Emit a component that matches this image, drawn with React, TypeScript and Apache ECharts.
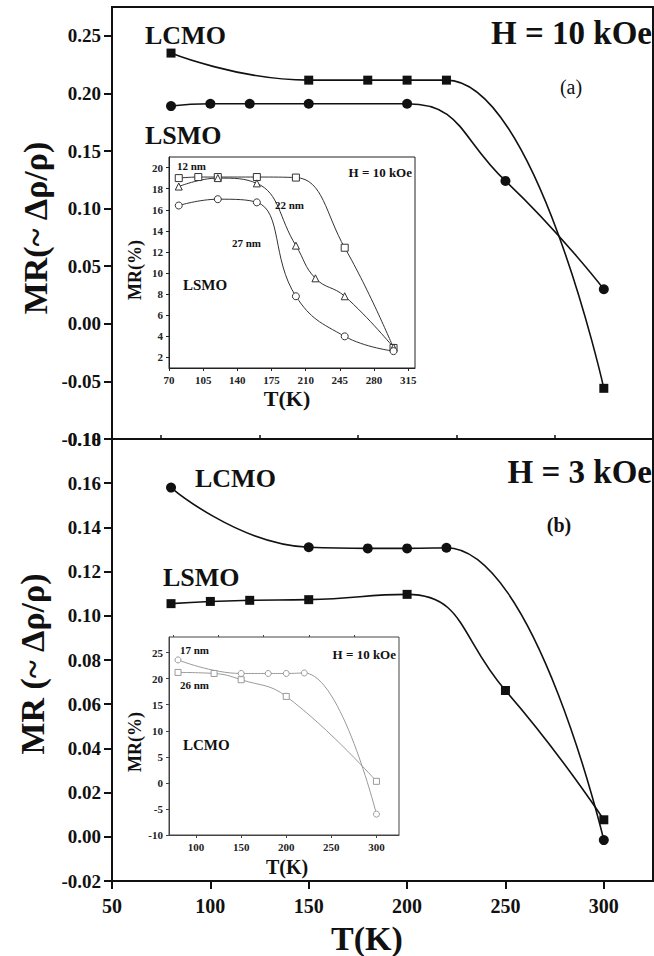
import React, { useEffect, useRef } from 'react';
import * as echarts from 'echarts';

// ---------- Main panel (a): H = 10 kOe ----------
const topLcmoT = [80, 150, 180, 200, 220, 300];
const topLcmoMR = [0.235, 0.2115, 0.2115, 0.2115, 0.2115, -0.056];
const topLsmoT = [80, 100, 120, 150, 200, 250, 300];
const topLsmoMR = [0.189, 0.191, 0.191, 0.191, 0.191, 0.124, 0.03];

// ---------- Main panel (b): H = 3 kOe ----------
const botLcmoT = [80, 150, 180, 200, 220, 300];
const botLcmoMR = [0.158, 0.131, 0.1305, 0.1305, 0.1308, -0.0015];
const botLsmoT = [80, 100, 120, 150, 200, 250, 300];
const botLsmoMR = [0.1055, 0.1065, 0.107, 0.1073, 0.1097, 0.0662, 0.0077];

// ---------- Inset (a): LSMO, H = 10 kOe, MR(%) ----------
const inA12T = [80, 100, 120, 160, 200, 250, 300];
const inA12MR = [19.0, 19.1, 19.1, 19.1, 19.05, 12.4, 2.9];
const inA22T = [80, 120, 160, 200, 220, 250, 300];
const inA22MR = [18.2, 19.0, 18.5, 12.6, 9.5, 7.8, 2.95];
const inA27T = [80, 120, 160, 200, 250, 300];
const inA27MR = [16.4, 17.0, 16.7, 7.8, 4.0, 2.6];

// ---------- Inset (b): LCMO, H = 10 kOe, MR(%) ----------
const inB17T = [80, 150, 180, 200, 220, 300];
const inB17MR = [23.6, 21.0, 21.0, 21.0, 21.1, -6.0];
const inB26T = [80, 120, 150, 200, 300];
const inB26MR = [21.2, 21.0, 19.8, 16.6, 0.3];

// ---------- Tick values ----------
const mainXTicks = [50, 100, 150, 200, 250, 300];
const mainXMinor = [75, 125, 175, 225, 275];
const topYTicks = [-0.1, -0.05, 0.0, 0.05, 0.1, 0.15, 0.2, 0.25];
const topYMinor = [-0.075, -0.025, 0.025, 0.075, 0.125, 0.175, 0.225];
const botYTicks = [-0.02, 0.0, 0.02, 0.04, 0.06, 0.08, 0.1, 0.12, 0.14, 0.16, 0.18];
const botYMinor = [-0.01, 0.01, 0.03, 0.05, 0.07, 0.09, 0.11, 0.13, 0.15, 0.17];
const inAXTicks = [70, 105, 140, 175, 210, 245, 280, 315];
const inAYTicks = [2, 4, 6, 8, 10, 12, 14, 16, 18, 20];
const inBXTicks = [100, 150, 200, 250, 300];
const inBXMinor = [75, 125, 175, 225, 275];
const inBYTicks = [-10, -5, 0, 5, 10, 15, 20, 25];

const SERIF = 'Liberation Serif';
const zip = (xs: number[], ys: number[]) => xs.map((x, i) => [x, ys[i]]);

export default function App() {
  const ref = useRef<HTMLDivElement>(null);
  useEffect(() => {
    if (!ref.current) return;
    const chart = echarts.init(ref.current, null, { renderer: 'svg' });

    const mainLabel = {
      fontFamily: SERIF,
      fontWeight: 'bold',
      fontSize: 19,
      color: '#111',
    };
    const insetLabel = {
      fontFamily: SERIF,
      fontWeight: 'bold',
      fontSize: 11,
      color: '#222',
    };
    const minorAxis = (gridIndex: number, min: number, max: number, vals: number[], len: number, color = '#111', width = 1.5) => ({
      type: 'value',
      gridIndex,
      min,
      max,
      axisLine: { show: false, onZero: false },
      splitLine: { show: false },
      axisLabel: { show: false },
      axisTick: { show: true, customValues: vals, length: len, lineStyle: { color, width } },
    });

    const text = (
      x: number,
      y: number,
      t: string,
      size: number,
      align: string = 'left',
      weight: string = 'bold',
      rotation = 0,
      color = '#111'
    ) => ({
      type: 'text',
      x,
      y,
      rotation,
      z: 100,
      style: {
        text: t,
        fontFamily: SERIF,
        fontSize: size,
        fontWeight: weight,
        fill: color,
        textAlign: align,
        textVerticalAlign: 'middle',
      },
    });

    const mainLine = (name: string, xi: number, yi: number, data: number[][], symbol: string, size: number) => ({
      name,
      type: 'line',
      xAxisIndex: xi,
      yAxisIndex: yi,
      data,
      smooth: 0.5,
      symbol,
      symbolSize: size,
      lineStyle: { color: '#111', width: 1.6 },
      itemStyle: { color: '#111', borderColor: '#111', borderWidth: 0 },
    });
    const insetLine = (
      name: string,
      xi: number,
      yi: number,
      data: number[][],
      symbol: string,
      color: string,
      size = 7
    ) => ({
      name,
      type: 'line',
      xAxisIndex: xi,
      yAxisIndex: yi,
      data,
      smooth: 0.45,
      symbol,
      symbolSize: size,
      lineStyle: { color, width: 1 },
      itemStyle: { color: '#fff', borderColor: color, borderWidth: 1 },
    });

    const option: any = {
      animation: false,
      backgroundColor: '#fff',
      textStyle: { fontFamily: SERIF },
      grid: [
        { left: 112, top: 7, width: 541, height: 432, show: true, borderColor: '#111', borderWidth: 2, backgroundColor: 'transparent' },
        { left: 112, top: 439, width: 541, height: 442, show: true, borderColor: '#111', borderWidth: 2, backgroundColor: 'transparent' },
        { left: 169, top: 157, width: 246, height: 211, show: true, borderColor: '#222', borderWidth: 1, backgroundColor: 'transparent' },
        { left: 169, top: 637, width: 230, height: 198, show: true, borderColor: '#444', borderWidth: 1, backgroundColor: 'transparent' },
      ],
      xAxis: [
        {
          type: 'value', gridIndex: 0, min: 50, max: 325,
          axisLine: { show: true, onZero: false, lineStyle: { color: '#111', width: 2 } },
          axisTick: { show: false }, axisLabel: { show: false }, splitLine: { show: false },
        },
        {
          type: 'value', gridIndex: 1, min: 50, max: 325,
          axisLine: { show: true, onZero: false, lineStyle: { color: '#111', width: 2 } },
          axisTick: { show: true, customValues: mainXTicks, length: 8, lineStyle: { color: '#111', width: 2 } },
          axisLabel: { show: true, customValues: mainXTicks, margin: 15, ...mainLabel, fontSize: 20 },
          splitLine: { show: false },
        },
        minorAxis(1, 50, 325, mainXMinor, 4),
        {
          type: 'value', gridIndex: 2, min: 70, max: 322,
          axisLine: { show: true, onZero: false, lineStyle: { color: '#222', width: 1 } },
          axisTick: { show: true, customValues: inAXTicks, length: 3, lineStyle: { color: '#222' } },
          axisLabel: { show: true, customValues: inAXTicks, margin: 6, ...insetLabel },
          splitLine: { show: false },
        },
        {
          type: 'value', gridIndex: 3, min: 70, max: 325,
          axisLine: { show: true, onZero: false, lineStyle: { color: '#444', width: 1 } },
          axisTick: { show: true, customValues: inBXTicks, length: 3, lineStyle: { color: '#444' } },
          axisLabel: { show: true, customValues: inBXTicks, margin: 6, ...insetLabel },
          splitLine: { show: false },
        },
        minorAxis(3, 70, 325, inBXMinor, 2, '#444', 1),
      ],
      yAxis: [
        {
          type: 'value', gridIndex: 0, min: -0.1, max: 0.275,
          axisLine: { show: true, onZero: false, lineStyle: { color: '#111', width: 2 } },
          axisTick: { show: true, customValues: topYTicks, length: 8, lineStyle: { color: '#111', width: 2 } },
          axisLabel: { show: true, customValues: topYTicks, margin: 11, ...mainLabel, formatter: (v: number) => v.toFixed(2) },
          splitLine: { show: false },
        },
        minorAxis(0, -0.1, 0.275, topYMinor, 4),
        {
          type: 'value', gridIndex: 1, min: -0.02, max: 0.18,
          axisLine: { show: true, onZero: false, lineStyle: { color: '#111', width: 2 } },
          axisTick: { show: true, customValues: botYTicks, length: 8, lineStyle: { color: '#111', width: 2 } },
          axisLabel: { show: true, customValues: botYTicks, margin: 11, ...mainLabel, formatter: (v: number) => v.toFixed(2) },
          splitLine: { show: false },
        },
        minorAxis(1, -0.02, 0.18, botYMinor, 4),
        {
          type: 'value', gridIndex: 2, min: 1, max: 21,
          axisLine: { show: true, onZero: false, lineStyle: { color: '#222', width: 1 } },
          axisTick: { show: true, customValues: inAYTicks, length: 3, lineStyle: { color: '#222' } },
          axisLabel: { show: true, customValues: inAYTicks, margin: 6, ...insetLabel },
          splitLine: { show: false },
        },
        {
          type: 'value', gridIndex: 3, min: -10, max: 28,
          axisLine: { show: true, onZero: false, lineStyle: { color: '#444', width: 1 } },
          axisTick: { show: true, customValues: inBYTicks, length: 3, lineStyle: { color: '#444' } },
          axisLabel: { show: true, customValues: inBYTicks, margin: 6, ...insetLabel },
          splitLine: { show: false },
        },
      ],
      series: [
        mainLine('LCMO 10 kOe', 0, 0, zip(topLcmoT, topLcmoMR), 'rect', 9),
        mainLine('LSMO 10 kOe', 0, 0, zip(topLsmoT, topLsmoMR), 'circle', 10),
        mainLine('LCMO 3 kOe', 1, 2, zip(botLcmoT, botLcmoMR), 'circle', 10),
        mainLine('LSMO 3 kOe', 1, 2, zip(botLsmoT, botLsmoMR), 'rect', 9),
        insetLine('12 nm', 3, 4, zip(inA12T, inA12MR), 'rect', '#333'),
        insetLine('22 nm', 3, 4, zip(inA22T, inA22MR), 'triangle', '#333'),
        insetLine('27 nm', 3, 4, zip(inA27T, inA27MR), 'circle', '#333'),
        insetLine('17 nm', 4, 5, zip(inB17T, inB17MR), 'circle', '#9a9a9a', 6),
        insetLine('26 nm', 4, 5, zip(inB26T, inB26MR), 'rect', '#9a9a9a', 6),
      ],
      graphic: [
        // main panel texts
        text(145, 35, 'LCMO', 26),
        text(145, 135, 'LSMO', 26),
        text(652, 33, 'H = 10 kOe', 33, 'right'),
        text(571, 87, '(a)', 20, 'center', 'normal'),
        text(195, 478, 'LCMO', 26),
        text(163, 577, 'LSMO', 26),
        text(652, 472, 'H = 3 kOe', 33, 'right'),
        text(559, 525, '(b)', 20, 'center', 'bold'),
        text(35, 228, 'MR(~ Δρ/ρ)', 34, 'center', 'bold', Math.PI / 2),
        text(32, 664, 'MR (~ Δρ/ρ)', 34, 'center', 'bold', Math.PI / 2),
        text(367, 938, 'T(K)', 34, 'center'),
        // inset (a)
        text(177, 166, '12 nm', 11),
        text(275, 205, '22 nm', 11),
        text(232, 243, '27 nm', 11),
        text(412, 172, 'H = 10 kOe', 13, 'right'),
        text(183, 285, 'LSMO', 15),
        text(135, 270, 'MR(%)', 18, 'center', 'bold', Math.PI / 2),
        text(287, 398, 'T(K)', 22, 'center'),
        // inset (b)
        text(180, 650, '17 nm', 11),
        text(180, 685, '26 nm', 11),
        text(396, 654, 'H = 10 kOe', 13, 'right'),
        text(183, 745, 'LCMO', 15),
        text(135, 742, 'MR(%)', 18, 'center', 'bold', Math.PI / 2),
        text(287, 867, 'T(K)', 20, 'center'),
      ],
    };

    chart.setOption(option);
    return () => chart.dispose();
  }, []);

  return (
    <div
      ref={ref}
      style={{ position: 'absolute', left: 0, top: 0, width: 654, height: 956, background: '#fff' }}
    />
  );
}
